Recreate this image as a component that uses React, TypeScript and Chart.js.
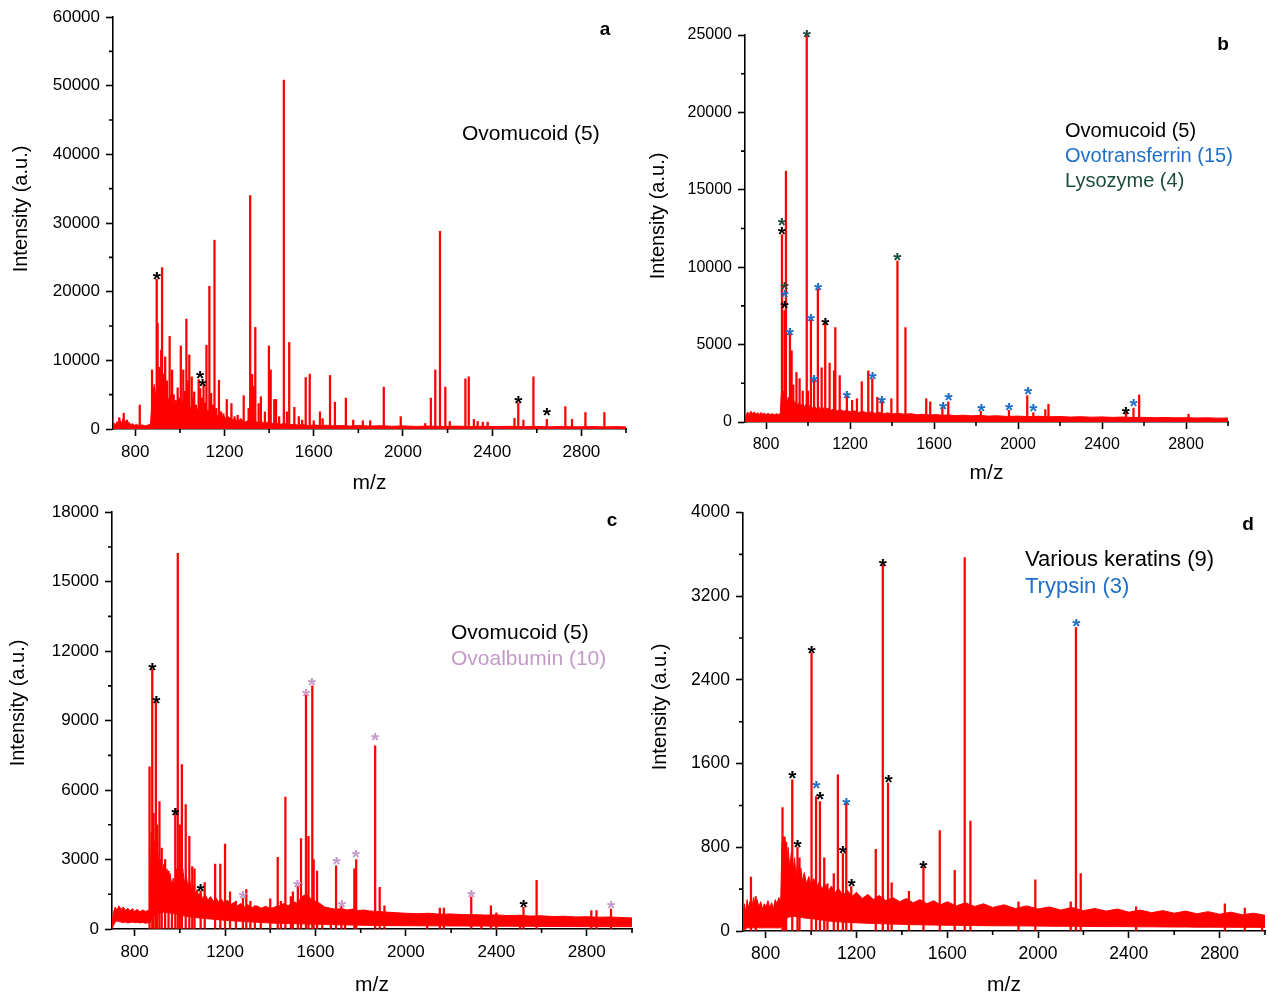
import React, { useEffect, useRef } from 'react';
import { Chart, registerables } from 'chart.js';

Chart.register(...registerables);

const FONT = '"Liberation Sans", Arial, Helvetica, sans-serif';
const RED = '#ff0000';

// ---------- shared axis data ----------
const xTicks = [800, 1200, 1600, 2000, 2400, 2800];
const xMinorTicks = [1000, 1400, 1800, 2200, 2600, 3000];
const xMin = 700;
const xMax = 3000;

// ---------- panel a ----------
const aYTicks = [0, 10000, 20000, 30000, 40000, 50000, 60000];
const aYMinor = [5000, 15000, 25000, 35000, 45000, 55000];
const aPeakMz = [
  728, 748, 763, 820, 875, 884, 896, 900, 908, 916,
  920, 927, 934, 942, 954, 965, 972, 981, 990, 996,
  1004, 1015, 1022, 1029, 1035, 1042, 1053, 1058, 1064, 1072,
  1084, 1091, 1098, 1106, 1112, 1119, 1132, 1140, 1148, 1155,
  1163, 1175, 1185, 1195, 1210, 1231, 1245, 1259, 1272, 1286,
  1308, 1315, 1324, 1330, 1338, 1353, 1363, 1381, 1399, 1407,
  1423, 1431, 1445, 1466, 1480, 1490, 1513, 1533, 1548, 1564,
  1582, 1600, 1628, 1640, 1673, 1695, 1744, 1777, 1820, 1853,
  1914, 1990, 2100, 2125, 2145, 2166, 2190, 2210, 2280, 2295,
  2318, 2335, 2358, 2380, 2500, 2517, 2540, 2585, 2645, 2728,
  2758, 2818, 2903,
];
const aPeakInt = [
  1650, 2300, 1300, 3500, 8600, 6000, 21800, 15400, 9000, 11500,
  23500, 8000, 10500, 7000, 13500, 8600, 5000, 4200, 6000, 4500,
  12100, 8600, 5500, 16000, 7000, 10800, 7600, 4500, 5400, 3500,
  7200, 5900, 4500, 6400, 3800, 12200, 20800, 5200, 3500, 27500,
  3000, 7100, 2500, 2200, 4300, 3700, 1800, 2000, 1500, 4850,
  3000, 34000, 7950, 6200, 14800, 3700, 4700, 2500, 12100, 8600,
  4300, 4300, 1800, 50800, 2500, 12600, 3150, 1800, 1300, 7500,
  8000, 1200, 2500, 1500, 7800, 3900, 4500, 1300, 1200, 1200,
  6100, 1800, 800, 4500, 8600, 28800, 6100, 1100, 7300, 7600,
  1400, 1100, 1000, 1000, 1550, 3800, 1300, 7600, 1400, 3250,
  1400, 2400, 2400,
];
const aNoiseMz = [
  700, 705, 712, 718, 725, 732, 738, 745, 752, 758,
  765, 772, 780, 788, 795, 805, 815, 830, 845, 858,
  868, 873, 879, 885, 892, 899, 906, 913, 920, 927,
  934, 941, 948, 955, 962, 969, 976, 983, 990, 997,
  1004, 1011, 1018, 1025, 1032, 1039, 1046, 1053, 1060, 1067,
  1074, 1081, 1088, 1095, 1102, 1110, 1118, 1126, 1134, 1142,
  1150, 1158, 1166, 1175, 1185, 1195, 1205, 1218, 1232, 1246,
  1260, 1275, 1290, 1305, 1320, 1335, 1350, 1365, 1380, 1395,
  1410, 1430, 1450, 1470, 1490, 1510, 1530, 1550, 1575, 1600,
  1630, 1660, 1690, 1720, 1760, 1800, 1850, 1900, 1950, 2000,
  2060, 2120, 2180, 2240, 2300, 2360, 2420, 2480, 2540, 2600,
  2660, 2720, 2780, 2840, 2900, 2960, 3000,
];
const aNoiseHigh = [
  300, 900, 600, 1100, 700, 1300, 800, 1500, 900, 1200,
  700, 1000, 600, 800, 500, 700, 500, 600, 450, 600,
  700, 3000, 5000, 6500, 4500, 7000, 5000, 6500, 4500, 6000,
  4000, 5500, 4000, 5000, 3500, 4500, 3500, 4000, 3000, 4500,
  3000, 4000, 3500, 4500, 3000, 4000, 3000, 3500, 2800, 3500,
  2500, 3000, 2500, 3500, 2500, 3000, 2200, 2800, 2200, 2500,
  2000, 2400, 1800, 2200, 1600, 2000, 1500, 1800, 1300, 1500,
  1100, 1400, 1000, 1200, 900, 1200, 900, 1100, 800, 1000,
  800, 900, 700, 800, 600, 700, 550, 650, 500, 600,
  480, 550, 450, 520, 430, 500, 420, 480, 400, 450,
  380, 430, 370, 420, 360, 400, 350, 390, 340, 380,
  330, 370, 320, 360, 310, 350, 300,
];
const aStarMz = [896, 1091, 1102, 2517, 2645];
const aStarInt = [22570, 8150, 6990, 4510, 2770];
const aStarGroup = ['ovomucoid', 'ovomucoid', 'ovomucoid', 'ovomucoid', 'ovomucoid'];
const aLegend = [{ text: 'Ovomucoid (5)', group: 'ovomucoid' }];

// ---------- panel b ----------
const bYTicks = [0, 5000, 10000, 15000, 20000, 25000];
const bYMinor = [2500, 7500, 12500, 17500, 22500];
const bPeakMz = [
  876, 888, 895, 914, 922, 930, 945, 960, 975, 994,
  1000, 1014, 1029, 1047, 1065, 1082, 1103, 1124, 1130, 1151,
  1185, 1210, 1233, 1256, 1287, 1306, 1330, 1352, 1397, 1426,
  1464, 1563, 1582, 1640, 1668, 1823, 1957, 2044, 2073, 2130,
  2145, 2514, 2550, 2577, 2812,
];
const bPeakInt = [
  12100, 7200, 16200, 5700, 4600, 2400, 3200, 2800, 2000, 25000,
  2000, 6600, 2800, 8600, 3500, 6400, 3800, 3300, 6100, 3000,
  1800, 1400, 1500, 2600, 3300, 2800, 1600, 1500, 1500, 10400,
  6100, 1500, 1300, 950, 1300, 700, 750, 1700, 600, 800,
  1150, 700, 900, 1750, 500,
];
const bNoiseMz = [
  700, 705, 712, 720, 728, 736, 744, 752, 760, 768,
  776, 784, 792, 800, 810, 820, 830, 840, 850, 860,
  868, 873, 878, 884, 890, 896, 902, 908, 914, 920,
  926, 932, 938, 944, 950, 958, 966, 974, 982, 990,
  1000, 1010, 1020, 1030, 1040, 1050, 1060, 1070, 1080, 1095,
  1110, 1125, 1140, 1155, 1170, 1185, 1200, 1220, 1240, 1260,
  1280, 1300, 1320, 1340, 1360, 1380, 1400, 1430, 1460, 1490,
  1520, 1550, 1580, 1610, 1640, 1670, 1700, 1740, 1780, 1820,
  1860, 1900, 1950, 2000, 2050, 2100, 2150, 2200, 2250, 2300,
  2350, 2400, 2450, 2500, 2550, 2600, 2650, 2700, 2750, 2800,
  2850, 2900, 2950, 3000,
];
const bNoiseHigh = [
  100, 400, 650, 500, 700, 550, 650, 500, 600, 480,
  620, 500, 580, 470, 560, 480, 540, 470, 530, 480,
  550, 1800, 1500, 2000, 1400, 1800, 1300, 1600, 1200, 1500,
  1150, 1400, 1100, 1300, 1050, 1250, 1000, 1200, 950, 1150,
  900, 1100, 880, 1050, 850, 1000, 820, 950, 800, 900,
  760, 850, 720, 800, 700, 760, 660, 720, 620, 680,
  600, 650, 560, 620, 540, 590, 520, 560, 500, 540,
  470, 500, 450, 480, 430, 460, 410, 440, 400, 420,
  380, 400, 360, 380, 350, 370, 340, 350, 320, 340,
  310, 330, 300, 320, 290, 300, 280, 290, 270, 280,
  260, 270, 250, 260,
];
const bStarMz = [875, 875, 888, 888, 888, 914, 994, 1014, 1029, 1048, 1082, 1185, 1308, 1352, 1426, 1643, 1670, 1825, 1958, 2048, 2073, 2514, 2550];
const bStarInt = [13050, 12470, 8935, 8400, 7710, 5985, 25210, 6890, 2907, 8890, 6590, 1895, 3143, 1530, 10830, 1205, 1787, 1077, 1098, 2153, 1033, 883, 1356];
const bStarGroup = [
  'lysozyme', 'ovomucoid', 'lysozyme', 'ovotransferrin', 'ovomucoid', 'ovotransferrin', 'lysozyme',
  'ovotransferrin', 'ovotransferrin', 'ovotransferrin', 'ovomucoid', 'ovotransferrin', 'ovotransferrin',
  'ovotransferrin', 'lysozyme', 'ovotransferrin', 'ovotransferrin', 'ovotransferrin', 'ovotransferrin',
  'ovotransferrin', 'ovotransferrin', 'ovomucoid', 'ovotransferrin',
];
const bLegend = [
  { text: 'Ovomucoid (5)', group: 'ovomucoid' },
  { text: 'Ovotransferrin (15)', group: 'ovotransferrin' },
  { text: 'Lysozyme (4)', group: 'lysozyme' },
];

// ---------- panel c ----------
const cYTicks = [0, 3000, 6000, 9000, 12000, 15000, 18000];
const cYMinor = [1500, 4500, 7500, 10500, 13500, 16500];
const cPeakMz = [
  866, 878, 884, 894, 900, 910, 920, 935, 950, 965,
  980, 991, 1000, 1009, 1026, 1042, 1055, 1065, 1092, 1110,
  1156, 1179, 1200, 1222, 1248, 1279, 1294, 1312, 1332, 1358,
  1400, 1433, 1447, 1467, 1491, 1500, 1522, 1536, 1558, 1569,
  1586, 1592, 1607, 1630, 1668, 1691, 1714, 1731, 1772, 1780,
  1864, 1884, 1905, 2094, 2150, 2168, 2289, 2334, 2376, 2400,
  2505, 2520, 2578, 2820, 2843, 2907,
];
const cPeakInt = [
  7000, 11220, 5000, 9810, 4500, 5500, 3500, 3000, 2500, 1800,
  5200, 16220, 4500, 7100, 5370, 4000, 2700, 2600, 1650, 2000,
  2800, 2800, 3670, 1600, 1200, 1340, 1700, 1200, 1000, 800,
  1300, 3100, 1200, 5700, 1400, 1600, 1840, 3900, 10100, 4000,
  10500, 3000, 2500, 1000, 700, 2730, 980, 600, 2600, 3000,
  7910, 1800, 1000, 600, 900, 900, 1380, 600, 1000, 700,
  600, 935, 2100, 800, 800, 860,
];
const cNoiseMz = [
  700, 706, 714, 722, 730, 740, 750, 760, 770, 780,
  790, 800, 812, 824, 836, 848, 860, 869, 873, 880,
  887, 894, 901, 908, 915, 922, 929, 936, 943, 950,
  957, 964, 971, 978, 985, 992, 999, 1006, 1013, 1020,
  1028, 1036, 1044, 1052, 1060, 1068, 1076, 1084, 1092, 1100,
  1112, 1124, 1136, 1148, 1160, 1172, 1184, 1196, 1210, 1225,
  1240, 1255, 1270, 1285, 1300, 1320, 1340, 1360, 1380, 1400,
  1420, 1440, 1460, 1480, 1500, 1520, 1540, 1560, 1580, 1600,
  1620, 1640, 1665, 1690, 1715, 1740, 1765, 1790, 1815, 1840,
  1870, 1900, 1930, 1960, 2000, 2050, 2100, 2150, 2200, 2250,
  2300, 2350, 2400, 2450, 2500, 2550, 2600, 2650, 2700, 2750,
  2800, 2850, 2900, 2950, 3000,
];
const cNoiseLow = [
  0, 150, 300, 350, 320, 300, 280, 300, 260, 280,
  300, 270, 290, 260, 280, 250, 270, 280, 450, 500,
  560, 600, 640, 680, 700, 720, 720, 720, 700, 700,
  690, 680, 660, 650, 640, 620, 600, 590, 580, 560,
  550, 540, 530, 520, 510, 500, 490, 480, 470, 460,
  450, 440, 430, 420, 410, 400, 390, 380, 370, 360,
  350, 340, 330, 320, 310, 300, 290, 280, 270, 260,
  250, 245, 240, 235, 230, 225, 220, 215, 210, 205,
  200, 195, 190, 185, 180, 175, 170, 165, 160, 155,
  150, 150, 145, 145, 140, 140, 135, 135, 130, 130,
  125, 125, 120, 120, 115, 115, 110, 110, 105, 105,
  100, 100, 100, 100, 100,
];
const cNoiseHigh = [
  200, 700, 950, 800, 1000, 850, 950, 800, 900, 780,
  880, 760, 850, 740, 820, 760, 800, 850, 4200, 3200,
  3800, 2800, 3400, 2600, 3000, 2400, 2800, 2200, 2600, 2100,
  2400, 1900, 2200, 1800, 2600, 2000, 2800, 2200, 2600, 2000,
  2300, 1800, 2100, 1600, 1900, 1500, 1700, 1400, 1600, 1300,
  1500, 1250, 1400, 1200, 1350, 1150, 1300, 1100, 1250, 1050,
  1150, 1000, 1100, 950, 1050, 930, 1000, 900, 980, 880,
  950, 1000, 1100, 1000, 1200, 1100, 1400, 1500, 1300, 1200,
  1100, 950, 900, 850, 880, 820, 860, 800, 820, 780,
  760, 740, 720, 700, 680, 660, 680, 640, 650, 620,
  620, 600, 610, 580, 590, 560, 570, 540, 550, 520,
  530, 510, 520, 500, 480,
];
const cStarMz = [878, 896, 980, 1092, 2520, 1279, 1520, 1558, 1584, 1693, 1717, 1779, 1864, 2289, 2907];
const cStarInt = [11430, 9970, 5150, 1870, 1166, 1554, 2058, 10290, 10750, 3022, 1194, 3324, 8400, 1597, 1122];
const cStarGroup = [
  'ovomucoid', 'ovomucoid', 'ovomucoid', 'ovomucoid', 'ovomucoid',
  'ovoalbumin', 'ovoalbumin', 'ovoalbumin', 'ovoalbumin', 'ovoalbumin',
  'ovoalbumin', 'ovoalbumin', 'ovoalbumin', 'ovoalbumin', 'ovoalbumin',
];
const cLegend = [
  { text: 'Ovomucoid (5)', group: 'ovomucoid' },
  { text: 'Ovoalbumin (10)', group: 'ovoalbumin' },
];

// ---------- panel d ----------
const dYTicks = [0, 800, 1600, 2400, 3200, 4000];
const dYMinor = [400, 1200, 2000, 2800, 3600];
const dPeakMz = [
  735, 756, 874, 880, 890, 917, 940, 949, 1002, 1022,
  1039, 1058, 1072, 1100, 1118, 1140, 1155, 1177, 1285, 1316,
  1339, 1355, 1431, 1495, 1567, 1633, 1677, 1702, 1914, 1988,
  2144, 2167, 2188, 2432, 2823, 2911, 2987,
];
const dPeakInt = [
  515, 330, 1180, 900, 850, 1445, 800, 700, 2662, 1285,
  1238, 700, 450, 550, 1492, 740, 1228, 425, 780, 3500,
  1413, 460, 380, 611, 960, 580, 3570, 1050, 280, 490,
  280, 2900, 550, 230, 260, 220, 150,
];
const dNoiseMz = [
  700, 706, 712, 718, 724, 730, 738, 746, 754, 762,
  770, 778, 786, 794, 802, 810, 818, 826, 834, 842,
  850, 858, 866, 872, 878, 885, 892, 899, 906, 913,
  920, 927, 934, 941, 948, 955, 962, 970, 980, 990,
  1000, 1012, 1024, 1036, 1048, 1060, 1075, 1090, 1105, 1120,
  1140, 1160, 1180, 1200, 1225, 1250, 1275, 1300, 1330, 1360,
  1390, 1420, 1450, 1480, 1510, 1540, 1570, 1600, 1640, 1680,
  1720, 1760, 1800, 1850, 1900, 1950, 2000, 2050, 2100, 2150,
  2200, 2250, 2300, 2350, 2400, 2450, 2500, 2550, 2600, 2650,
  2700, 2750, 2800, 2850, 2900, 2950, 3000,
];
const dNoiseLow = [
  0, 10, 20, 30, 30, 30, 30, 30, 30, 30,
  30, 30, 30, 30, 30, 30, 30, 30, 30, 30,
  30, 30, 30, 60, 90, 110, 120, 130, 135, 140,
  140, 140, 138, 135, 132, 130, 128, 125, 122, 120,
  118, 115, 112, 108, 105, 100, 96, 92, 90, 88,
  85, 82, 80, 78, 76, 74, 72, 70, 68, 66,
  64, 62, 60, 60, 58, 57, 56, 55, 54, 53,
  52, 51, 50, 50, 49, 48, 47, 46, 45, 45,
  44, 43, 42, 42, 41, 40, 40, 39, 38, 38,
  37, 37, 36, 36, 35, 35, 35,
];
const dNoiseHigh = [
  150, 260, 180, 300, 220, 280, 200, 320, 240, 300,
  230, 280, 210, 260, 230, 290, 220, 270, 210, 300,
  260, 320, 280, 850, 700, 900, 650, 800, 600, 750,
  560, 700, 520, 650, 500, 600, 470, 560, 450, 520,
  430, 500, 420, 470, 400, 450, 380, 430, 360, 410,
  340, 390, 330, 370, 310, 350, 300, 340, 290, 320,
  280, 310, 270, 300, 260, 290, 250, 280, 240, 270,
  235, 260, 225, 250, 215, 240, 210, 230, 200, 225,
  195, 215, 190, 210, 180, 200, 175, 195, 170, 190,
  165, 185, 160, 180, 155, 170, 150,
];
const dStarMz = [917, 940, 1002, 1040, 1140, 1178, 1316, 1341, 1495, 1023, 1155, 2169];
const dStarInt = [1511, 850, 2704, 1311, 796, 484, 3536, 1470, 655, 1413, 1257, 2960];
const dStarGroup = [
  'keratin', 'keratin', 'keratin', 'keratin', 'keratin', 'keratin', 'keratin', 'keratin', 'keratin',
  'trypsin', 'trypsin', 'trypsin',
];
const dLegend = [
  { text: 'Various keratins (9)', group: 'keratin' },
  { text: 'Trypsin (3)', group: 'trypsin' },
];

const panelLetters = ['a', 'b', 'c', 'd'];
const xTitle = 'm/z';
const yTitle = 'Intensity (a.u.)';

// ---------- styles ----------
const GROUP_COLOR: Record<string, string> = {
  ovomucoid: '#000000',
  ovotransferrin: '#1f6fc6',
  lysozyme: '#1c4d3e',
  ovoalbumin: '#c49ac8',
  keratin: '#000000',
  trypsin: '#1f6fc6',
};

type Spec = {
  id: string;
  yMax: number;
  yTicks: number[];
  yMinor: number[];
  peakMz: number[];
  peakInt: number[];
  noiseMz: number[];
  noiseLow?: number[];
  noiseHigh: number[];
  starMz: number[];
  starInt: number[];
  starGroup: string[];
  legend: { text: string; group: string }[];
  left: number; top: number; width: number; height: number;
  yAxisW: number; padTop: number; padRight: number; xAxisH: number;
  tickSize: number;
  legendX: number; legendY0: number; legendStep: number; legendSize: number;
  letterX: number; letterY: number;
  yTitleX: number; yTitleY: number;
};

const SPECS: Spec[] = [
  {
    id: 'a', yMax: 60000, yTicks: aYTicks, yMinor: aYMinor,
    peakMz: aPeakMz, peakInt: aPeakInt, noiseMz: aNoiseMz, noiseHigh: aNoiseHigh,
    starMz: aStarMz, starInt: aStarInt, starGroup: aStarGroup, legend: aLegend,
    left: 0, top: 0, width: 640, height: 494, yAxisW: 113, padTop: 17, padRight: 14, xAxisH: 65,
    tickSize: 17, legendX: 462, legendY0: 132, legendStep: 25, legendSize: 21,
    letterX: 605, letterY: 28, yTitleX: 20, yTitleY: 209,
  },
  {
    id: 'b', yMax: 25000, yTicks: bYTicks, yMinor: bYMinor,
    peakMz: bPeakMz, peakInt: bPeakInt, noiseMz: bNoiseMz, noiseHigh: bNoiseHigh,
    starMz: bStarMz, starInt: bStarInt, starGroup: bStarGroup, legend: bLegend,
    left: 640, top: 0, width: 628, height: 484, yAxisW: 105, padTop: 35, padRight: 40, xAxisH: 62,
    tickSize: 16, legendX: 1065, legendY0: 130, legendStep: 25, legendSize: 20,
    letterX: 1223, letterY: 43, yTitleX: 657, yTitleY: 216,
  },
  {
    id: 'c', yMax: 18000, yTicks: cYTicks, yMinor: cYMinor,
    peakMz: cPeakMz, peakInt: cPeakInt, noiseMz: cNoiseMz, noiseLow: cNoiseLow, noiseHigh: cNoiseHigh,
    starMz: cStarMz, starInt: cStarInt, starGroup: cStarGroup, legend: cLegend,
    left: 0, top: 496, width: 640, height: 500, yAxisW: 112, padTop: 16, padRight: 8, xAxisH: 67,
    tickSize: 17, legendX: 451, legendY0: 631, legendStep: 26, legendSize: 21,
    letterX: 612, letterY: 519, yTitleX: 17, yTitleY: 703,
  },
  {
    id: 'd', yMax: 4000, yTicks: dYTicks, yMinor: dYMinor,
    peakMz: dPeakMz, peakInt: dPeakInt, noiseMz: dNoiseMz, noiseLow: dNoiseLow, noiseHigh: dNoiseHigh,
    starMz: dStarMz, starInt: dStarInt, starGroup: dStarGroup, legend: dLegend,
    left: 640, top: 496, width: 628, height: 500, yAxisW: 103, padTop: 16, padRight: 3, xAxisH: 65,
    tickSize: 17.5, legendX: 1025, legendY0: 559, legendStep: 27, legendSize: 22,
    letterX: 1248, letterY: 523, yTitleX: 659, yTitleY: 707,
  },
];

const STAR_SIZE = 21;

function makePlugins(s: Spec) {
  return [
    {
      id: 'minorTicks' + s.id,
      afterDraw(chart: any) {
        const { ctx, chartArea, scales } = chart;
        ctx.save();
        ctx.strokeStyle = '#000';
        ctx.lineWidth = 1.6;
        ctx.beginPath();
        xMinorTicks.forEach((v) => {
          const px = scales.x.getPixelForValue(v);
          ctx.moveTo(px, chartArea.bottom);
          ctx.lineTo(px, chartArea.bottom + 4);
        });
        s.yMinor.forEach((v) => {
          const py = scales.y.getPixelForValue(v);
          ctx.moveTo(chartArea.left, py);
          ctx.lineTo(chartArea.left - 4, py);
        });
        ctx.stroke();
        ctx.restore();
      },
    },
    {
      id: 'stars' + s.id,
      afterDatasetsDraw(chart: any) {
        const { ctx, scales } = chart;
        ctx.save();
        ctx.font = `bold ${STAR_SIZE}px ${FONT}`;
        ctx.textAlign = 'center';
        ctx.textBaseline = 'alphabetic';
        s.starMz.forEach((m, i) => {
          const px = scales.x.getPixelForValue(m);
          const py = scales.y.getPixelForValue(s.starInt[i]);
          ctx.fillStyle = GROUP_COLOR[s.starGroup[i]];
          ctx.fillText('*', px, py + STAR_SIZE * 0.58);
        });
        ctx.restore();
      },
    },
  ];
}

function SpectrumPanel({ s }: { s: Spec }) {
  const ref = useRef<HTMLCanvasElement>(null);
  useEffect(() => {
    const canvas = ref.current;
    if (!canvas) return;
    const pts = (xs: number[], ys: number[]) => xs.map((x, i) => ({ x, y: ys[i] }));
    const datasets: any[] = [];
    if (s.noiseLow) {
      datasets.push({
        type: 'line', data: pts(s.noiseMz, s.noiseLow), borderColor: RED, borderWidth: 1,
        pointRadius: 0, fill: false, tension: 0,
      });
      datasets.push({
        type: 'line', data: pts(s.noiseMz, s.noiseHigh), borderColor: RED, backgroundColor: RED,
        borderWidth: 1, pointRadius: 0, fill: '-1', tension: 0,
      });
    } else {
      datasets.push({
        type: 'line', data: pts(s.noiseMz, s.noiseHigh), borderColor: RED, backgroundColor: RED,
        borderWidth: 1, pointRadius: 0, fill: 'origin', tension: 0,
      });
    }
    datasets.push({
      type: 'bar', data: pts(s.peakMz, s.peakInt), backgroundColor: RED, borderWidth: 0,
      barThickness: 1.6,
    });
    const axisCommon = {
      border: { display: true, color: '#000', width: 1.6 },
      grid: { display: true, drawOnChartArea: false, drawTicks: true, tickLength: 7, tickColor: '#000', tickWidth: 1.6, offset: false },
    };
    const chart = new Chart(canvas, {
      type: 'bar',
      data: { datasets },
      options: {
        animation: false,
        responsive: false,
        maintainAspectRatio: false,
        events: [],
        layout: { padding: { left: 0, top: s.padTop, right: s.padRight, bottom: 0 } },
        plugins: { legend: { display: false }, tooltip: { enabled: false }, title: { display: false } },
        scales: {
          x: {
            type: 'linear', min: xMin, max: xMax, offset: false,
            ...axisCommon,
            afterBuildTicks: (axis: any) => { axis.ticks = xTicks.map((v) => ({ value: v })); },
            afterFit: (axis: any) => { axis.height = s.xAxisH; },
            ticks: {
              autoSkip: false, maxRotation: 0, padding: 6, color: '#000',
              font: { family: FONT, size: s.tickSize },
              callback: (v: any) => String(v),
            },
            title: {
              display: true, text: xTitle, color: '#000', padding: { top: 0, bottom: 0 },
              font: { family: FONT, size: 21, lineHeight: 1 },
            },
          },
          y: {
            type: 'linear', min: 0, max: s.yMax,
            ...axisCommon,
            afterBuildTicks: (axis: any) => { axis.ticks = s.yTicks.map((v) => ({ value: v })); },
            afterFit: (axis: any) => { axis.width = s.yAxisW; },
            ticks: {
              padding: 6, color: '#000',
              font: { family: FONT, size: s.tickSize },
              callback: (v: any) => String(v),
            },
          },
        },
      } as any,
      plugins: makePlugins(s) as any,
    });
    return () => chart.destroy();
  }, [s]);
  return (
    <canvas
      ref={ref}
      width={s.width}
      height={s.height}
      style={{ position: 'absolute', left: s.left, top: s.top, width: s.width, height: s.height }}
    />
  );
}

export default function App() {
  return (
    <div
      style={{
        position: 'absolute', left: 0, top: 0, width: 1268, height: 996, overflow: 'hidden',
        background: '#fff', fontFamily: FONT, color: '#000',
      }}
    >
      {SPECS.map((s) => (
        <SpectrumPanel key={s.id} s={s} />
      ))}
      {SPECS.map((s, pi) => (
        <React.Fragment key={'t' + s.id}>
          <div
            style={{
              position: 'absolute', left: s.yTitleX, top: s.yTitleY, fontSize: 20, lineHeight: 1,
              whiteSpace: 'nowrap', transform: 'translate(-50%, -50%) rotate(-90deg)',
            }}
          >
            {yTitle}
          </div>
          <div
            style={{
              position: 'absolute', left: s.letterX, top: s.letterY, fontSize: 19, fontWeight: 'bold',
              lineHeight: 1, transform: 'translate(-50%, -50%)',
            }}
          >
            {panelLetters[pi]}
          </div>
          {s.legend.map((l, i) => (
            <div
              key={l.text}
              style={{
                position: 'absolute', left: s.legendX, top: s.legendY0 + i * s.legendStep,
                fontSize: s.legendSize, lineHeight: 1, whiteSpace: 'nowrap',
                transform: 'translateY(-50%)', color: GROUP_COLOR[l.group],
              }}
            >
              {l.text}
            </div>
          ))}
        </React.Fragment>
      ))}
    </div>
  );
}
